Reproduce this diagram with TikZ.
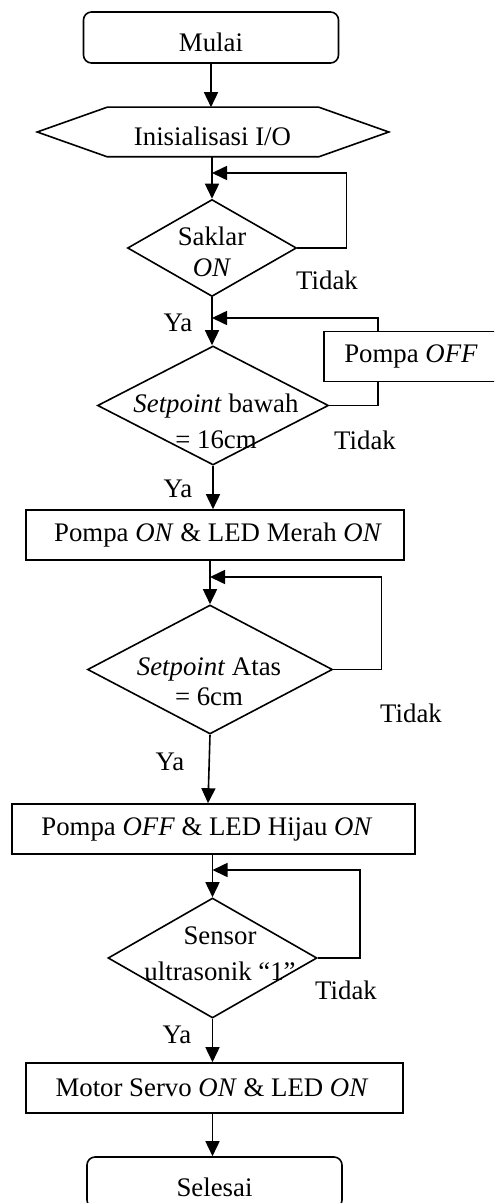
\documentclass[tikz,border=0pt]{standalone}
\usepackage{fontspec}
\setmainfont{Liberation Serif}
\usetikzlibrary{shapes.geometric,arrows.meta,calc}
\begin{document}
\begin{tikzpicture}[x=0.5pt,y=-0.5pt,
  font=\fontsize{13.4}{15.5}\selectfont,
  line width=0.8pt,
  arr/.style={-{Triangle[length=7.5pt,width=7pt]}},
  termbox/.style={draw,rounded corners=4pt,minimum width=127.5pt,minimum height=25.5pt,inner sep=0pt},
  procbox/.style={draw,minimum height=25pt,inner sep=0pt},
  decbox/.style={draw,diamond,inner sep=0pt},
  lbl/.style={inner sep=0pt,align=center}]
\clip (0,0) rectangle (494,1203);
% nodes
\node[termbox] (start) at (211,37.5) {\raisebox{-2.25pt}[\height][\depth]{Mulai}};
\node[minimum width=175pt,minimum height=24pt,inner sep=0pt] (hex) at (213,132) {};
\draw (hex.west) -- ([xshift=35pt]hex.north west) -- ([xshift=-35pt]hex.north east) -- (hex.east)
  -- ([xshift=-35pt]hex.south east) -- ([xshift=35pt]hex.south west) -- cycle;
\node[lbl] (hext) at (212.5,136) {Inisialisasi I/O};
\node[decbox,minimum width=84.5pt,minimum height=48.5pt] (d1) at (212,248) {};
\node[lbl] (d1t) at (212,251.5) {Saklar\\\textit{ON}};
\node[decbox,minimum width=115.5pt,minimum height=59.5pt] (d2) at (213,405.5) {};
\node[lbl] (d2t) at (216,421) {\textit{Setpoint} bawah\\[2.5pt]= 16cm};
\node[procbox,minimum width=87pt] (poff) at (411,356.5) {Pompa \textit{OFF}};
\node[procbox,minimum width=189pt] (b1) at (215,535) {\hspace*{3pt}Pompa \textit{ON} \& LED Merah \textit{ON}};
\node[decbox,minimum width=122.5pt,minimum height=64.5pt] (d3) at (210,669.5) {};
\node[lbl] (d3t) at (209,682) {\textit{Setpoint} Atas\\[-0.5pt]= 6cm};
\node[procbox,minimum width=201.5pt] (b2) at (213.5,829) {\hspace*{-6.5pt}Pompa \textit{OFF} \& LED Hijau \textit{ON}};
\node[decbox,minimum width=104.5pt,minimum height=60pt] (d4) at (212.5,958) {};
\node[lbl] (d4t) at (220,954) {Sensor\\[2.5pt]ultrasonik “1”};
\node[procbox,minimum width=188.5pt] (b3) at (214.5,1088) {\hspace*{-2.5pt}Motor Servo \textit{ON} \& LED \textit{ON}};
\node[termbox] (end) at (214.5,1182.5) {\raisebox{-2.25pt}[\height][\depth]{Selesai}};
% labels
\node[lbl] (t1) at (327,280) {Tidak};
\node[lbl] (y1) at (178,323) {Ya};
\node[lbl] (t2) at (365,440) {Tidak};
\node[lbl] (y2) at (178,489) {Ya};
\node[lbl] (t3) at (411,713) {Tidak};
\node[lbl] (y3) at (170,762) {Ya};
\node[lbl] (t4) at (346,990) {Tidak};
\node[lbl] (y4) at (177,1035) {Ya};
% junctions
\coordinate (j1) at (212,173);
\coordinate (j2) at (212,318);
\coordinate (j3) at (210,577);
\coordinate (j4) at (212.5,870);
\coordinate (pin) at (378,332);
\coordinate (pout) at (378,381);
% main flow
\draw[arr] (start.south) -- (start.south |- hex.north);
\draw[arr] (hex.south -| d1.north) -- (d1.north);
\draw[arr] (d1.south) -- (d1.south |- d2.north);
\draw[arr] (d2.south) -- (d2.south |- b1.north);
\draw[arr] (b1.south -| d3.north) -- (d3.north);
\draw[arr] (d3.south) -- ([xshift=-1pt]d3.south |- b2.north);
\draw[arr] (b2.south -| d4.north) -- (d4.north);
\draw[arr] (d4.south) -- (d4.south |- b3.north);
\draw[arr] (b3.south -| d4.south) -- (d4.south |- end.north);
% loops
\draw[arr] (d1.east) -- ++(49,0) |- (j1);
\draw (d2.east) -- (d2.east -| pout) -- (pout);
\draw[arr] (pin) -- (pin |- j2) -- (j2);
\draw[arr] (d3.east) -- ++(48,0) |- (j3);
\draw[arr] (d4.east) -- ++(42,0) |- (j4);
\end{tikzpicture}
\end{document}
